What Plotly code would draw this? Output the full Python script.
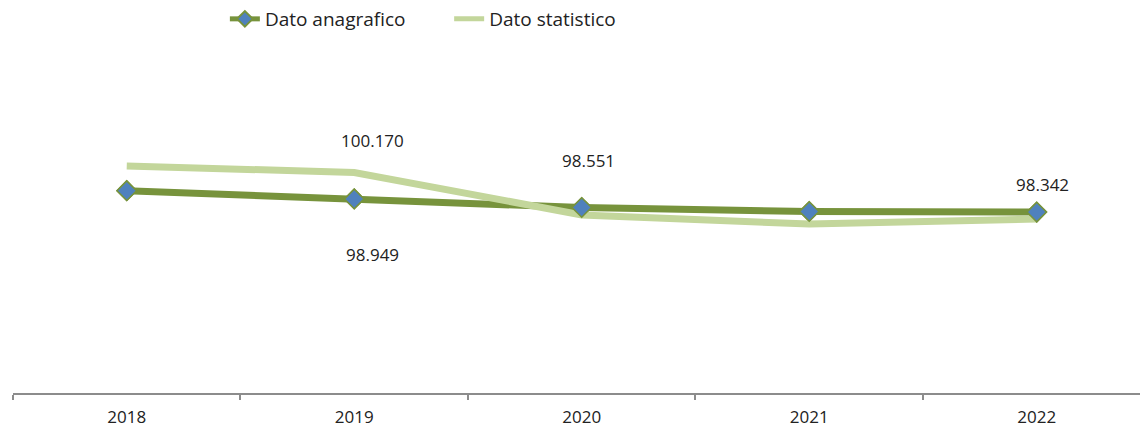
import plotly.graph_objects as go

# Resident population by year (dot as thousands separator in labels)
years = ["2018", "2019", "2020", "2021", "2022"]
dato_anagrafico = [99330, 98949, 98551, 98370, 98342]
dato_statistico = [100470, 100170, 98210, 97790, 98020]

DARK = "#77933C"
LIGHT = "#C3D69B"
BLUE = "#4F81BD"
FONT = "Open Sans"
TEXT = "#222222"
AXIS = "#8C8C8C"


def fmt(v):
    return f"{v:,}".replace(",", ".")


idx = list(range(len(years)))

fig = go.Figure()
fig.add_trace(go.Scatter(
    x=idx, y=dato_anagrafico, name="Dato anagrafico",
    mode="lines+markers", legend="legend",
    line=dict(color=DARK, width=7),
    marker=dict(symbol="diamond", size=15, color=BLUE,
                line=dict(color=DARK, width=1.5)),
))
fig.add_trace(go.Scatter(
    x=idx, y=dato_statistico, name="Dato statistico",
    mode="lines", legend="legend2",
    line=dict(color=LIGHT, width=7),
))
# markers of the first series drawn above both lines
fig.add_trace(go.Scatter(
    x=idx, y=dato_anagrafico, mode="markers", showlegend=False,
    marker=dict(symbol="diamond", size=15, color=BLUE,
                line=dict(color=DARK, width=1.5)),
    hoverinfo="skip",
))

# Data labels: (series values, year index, x shift, y shift)
labels = [
    (dato_statistico, 1, 18, 32),
    (dato_anagrafico, 1, 18, -56),
    (dato_anagrafico, 2, 7, 47),
    (dato_anagrafico, 4, 6, 28),
]
for series, i, dx, dy in labels:
    fig.add_annotation(
        x=i, y=series[i], xref="x", yref="y", text=fmt(series[i]),
        showarrow=False, xshift=dx, yshift=dy,
        font=dict(family=FONT, size=17, color=TEXT),
    )

legend_style = dict(
    orientation="h", xanchor="left",
    y=1.0, yref="container", yanchor="top",
    font=dict(family=FONT, size=19, color=TEXT),
    itemsizing="constant", bgcolor="rgba(0,0,0,0)",
)

fig.update_layout(
    width=1140, height=428,
    margin=dict(l=13, r=0, t=46, b=35, autoexpand=False),
    paper_bgcolor="white", plot_bgcolor="white",
    showlegend=True,
    legend=dict(x=0.188, **legend_style),
    legend2=dict(x=0.387, **legend_style),
    xaxis=dict(
        tickmode="array", tickvals=idx, ticktext=years,
        range=[-0.5, 4.454], automargin=False,
        showline=True, linecolor=AXIS, linewidth=1.5,
        ticks="", showgrid=False, zeroline=False,
        ticklabelstandoff=8,
        tickfont=dict(family=FONT, size=17, color=TEXT),
        minor=dict(
            tickmode="array", tickvals=[i - 0.5 for i in idx],
            ticks="outside", ticklen=5, tickcolor=AXIS, tickwidth=1.5,
            showgrid=False,
        ),
    ),
    yaxis=dict(
        range=[90000, 106000], visible=False, automargin=False,
        showgrid=False, zeroline=False,
    ),
)

fig.write_html("out.html")
